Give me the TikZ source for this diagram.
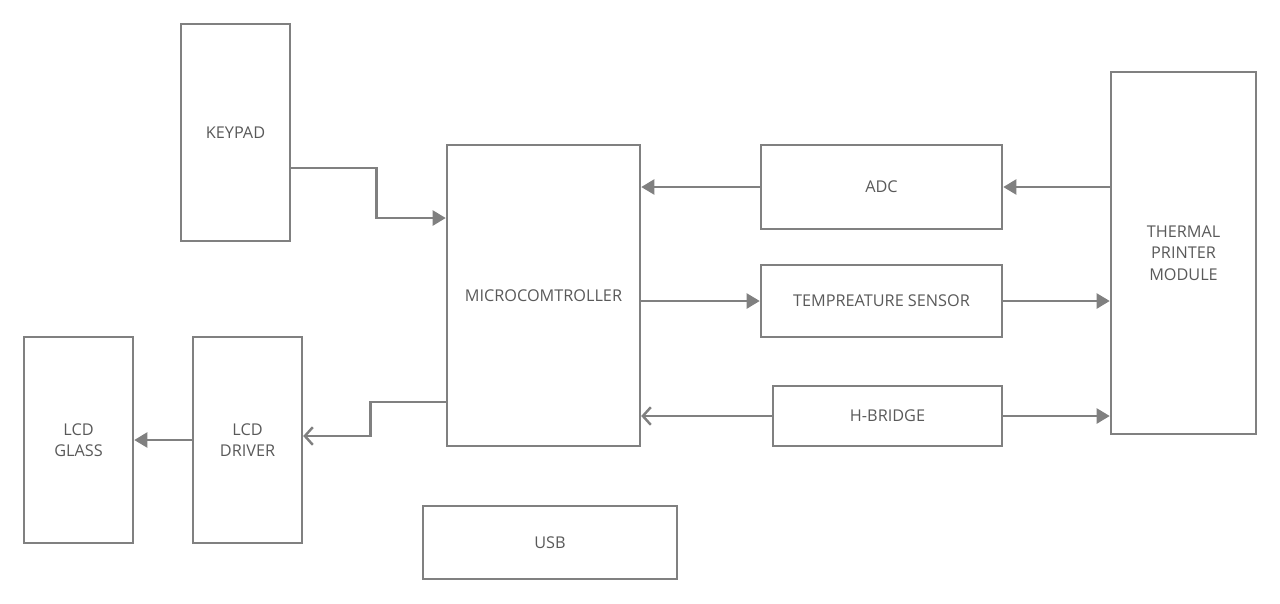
\documentclass[tikz,border=0pt]{standalone}
\usepackage{fontspec}
\setmainfont{Open Sans}
\usetikzlibrary{arrows.meta}
\definecolor{linegray}{HTML}{808080}
\definecolor{textgray}{HTML}{595959}
\tikzset{
  blk/.style={draw=linegray, line width=1.4pt, rectangle, inner sep=0pt, align=center,
    text=textgray, font=\fontsize{9.25}{12.3}\selectfont},
  arr/.style={draw=linegray, line width=1.6pt, -{Triangle[length=7.5pt,width=8.5pt]}},
  oarr/.style={draw=linegray, line width=1.6pt, -{Straight Barb[length=4.5pt,width=10pt,line width=1.4pt]}}
}
\begin{document}
\begin{tikzpicture}[x=0.02cm,y=-0.02cm]
\useasboundingbox (0,0) rectangle (1280,603);
\node[blk, minimum width=2.18cm, minimum height=4.34cm] (kp) at (235.5,132.5) {KEYPAD};
\node[blk, minimum width=3.86cm, minimum height=6.02cm] (mc) at (543.5,295.5) {MICROCOMTROLLER};
\node[blk, minimum width=4.82cm, minimum height=1.68cm] (adc) at (881.5,187) {ADC};
\node[blk, minimum width=4.82cm, minimum height=1.44cm] (temp) at (881.5,301) {TEMPREATURE SENSOR};
\node[blk, minimum width=4.58cm, minimum height=1.2cm] (hb) at (887.5,416) {H-BRIDGE};
\node[blk, minimum width=2.9cm, minimum height=7.24cm] (tpm) at (1183.5,253) {THERMAL\\PRINTER\\MODULE};
\node[blk, minimum width=2.18cm, minimum height=4.12cm] (lcdg) at (78.5,440) {LCD\\GLASS};
\node[blk, minimum width=2.18cm, minimum height=4.12cm] (lcdd) at (247.5,440) {LCD\\DRIVER};
\node[blk, minimum width=5.08cm, minimum height=1.46cm] (usb) at (550,542.5) {USB};

\draw[arr] ([yshift=-0.71cm]kp.east) -- ++(1.7cm,0) |- ([yshift=1.55cm]mc.west);
\draw[arr] (adc.west) -- (adc.west -| mc.east);
\draw[arr] (tpm.west |- adc.east) -- (adc.east);
\draw[arr] (temp.west -| mc.east) -- (temp.west);
\draw[arr] (temp.east) -- (temp.east -| tpm.west);
\draw[oarr] (hb.west) -- (hb.west -| mc.east);
\draw[arr] (hb.east) -- (hb.east -| tpm.west);
\draw[oarr] ([yshift=-2.13cm]mc.west) -- ++(-1.5cm,0) |- ([yshift=0.08cm]lcdd.east);
\draw[arr] (lcdd.west) -- (lcdg.east);
\end{tikzpicture}
\end{document}
